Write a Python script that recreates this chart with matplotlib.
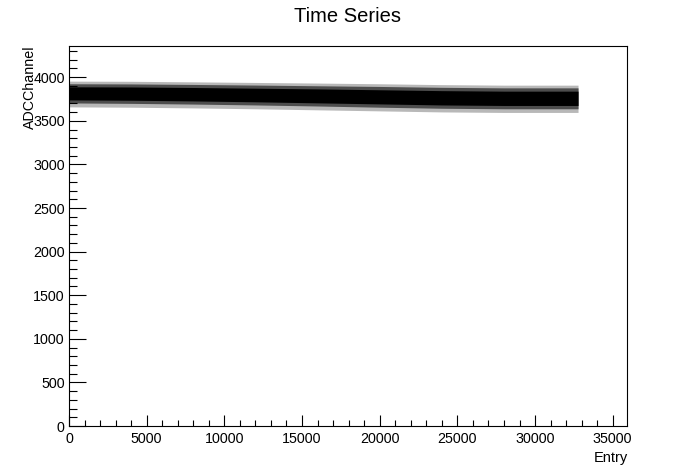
import numpy as np
import matplotlib.pyplot as plt
from matplotlib.ticker import MultipleLocator

plt.rcParams['font.family'] = ['Liberation Sans', 'DejaVu Sans']

# envelope of the ADC time series (entry -> ADC channel)
entry = [0, 4000, 8000, 12000, 16000, 20000, 24000, 28000, 32767]
core_hi = [3890, 3888, 3882, 3874, 3866, 3856, 3846, 3840, 3840]
core_lo = [3740, 3736, 3728, 3718, 3706, 3694, 3682, 3676, 3676]
mid_hi = [3925, 3923, 3917, 3910, 3902, 3894, 3884, 3878, 3878]
mid_lo = [3705, 3700, 3692, 3682, 3670, 3656, 3644, 3638, 3638]
out_hi = [3955, 3953, 3947, 3940, 3933, 3925, 3915, 3909, 3909]
out_lo = [3660, 3656, 3648, 3638, 3626, 3614, 3602, 3596, 3596]

fig = plt.figure(figsize=(6.96, 4.74), dpi=100)
ax = fig.add_axes([69 / 696, 48 / 474, 557.7 / 696, 380 / 474])

ax.fill_between(entry, out_lo, out_hi, color='0.72', linewidth=0)
ax.fill_between(entry, mid_lo, mid_hi, color='0.3', linewidth=0)
ax.fill_between(entry, core_lo, core_hi, color='black', linewidth=0)

ax.set_xlim(0, 35900)
ax.set_ylim(0, 4358)

ax.xaxis.set_major_locator(MultipleLocator(5000))
ax.xaxis.set_minor_locator(MultipleLocator(1000))
ax.yaxis.set_major_locator(MultipleLocator(500))
ax.yaxis.set_minor_locator(MultipleLocator(100))

ax.tick_params(axis='x', which='major', direction='in', length=8.2, width=0.8,
               labelsize=10.3, pad=4.5)
ax.tick_params(axis='x', which='minor', direction='in', length=4.1, width=0.8)
ax.tick_params(axis='y', which='major', direction='in', length=12.2, width=0.8,
               labelsize=10.3, pad=3)
ax.tick_params(axis='y', which='minor', direction='in', length=6.1, width=0.8)
for s in ax.spines.values():
    s.set_linewidth(0.8)

fig.text(348 / 696, 1 - 17 / 474, 'Time Series', ha='center', va='center',
         fontsize=14.5)
fig.text(628 / 696, 1 - 451 / 474, 'Entry', ha='right', va='top', fontsize=10.5)
fig.text(30 / 696, 1 - 45 / 474, 'ADCChannel', ha='center', va='top',
         rotation=90, fontsize=10.3)

fig.savefig('out.png', dpi=100)
